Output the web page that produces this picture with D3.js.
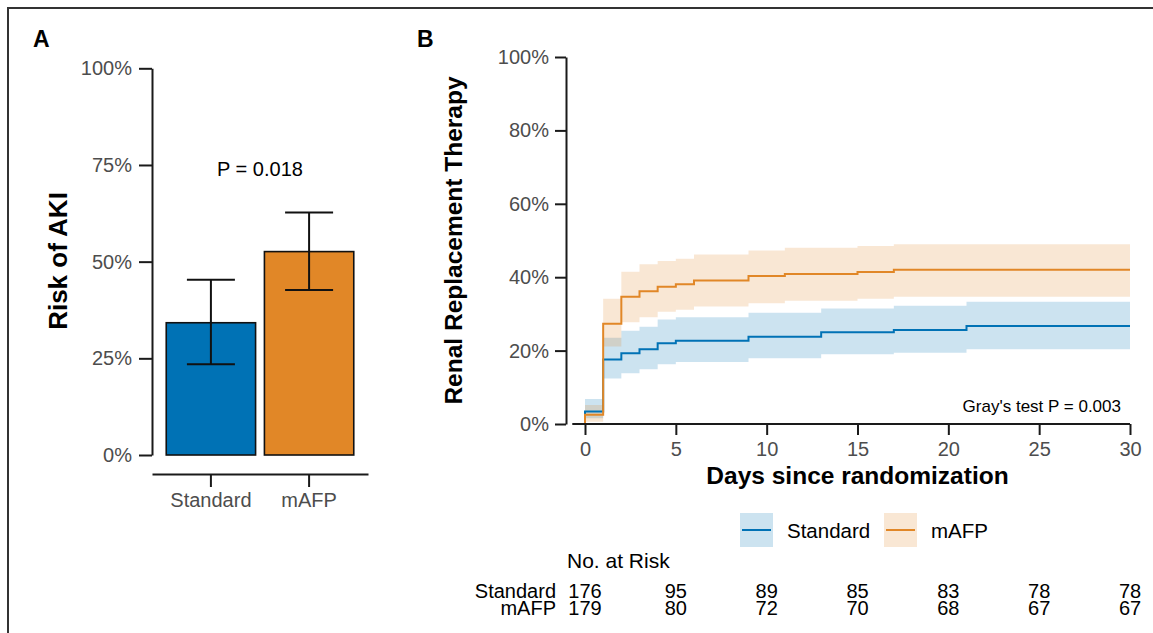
<!DOCTYPE html>
<html>
<head>
<meta charset="utf-8">
<script src="https://cdn.jsdelivr.net/npm/d3@7"></script>
<style>
  body { margin: 0; background: #fff; }
  svg { display: block; font-family: "Liberation Sans", Arial, sans-serif; }
  .axis path, .axis line { stroke: #1a1a1a; stroke-width: 2; }
  .axis text { fill: #4d4d4d; font-size: 20px; }
</style>
</head>
<body>
<div id="chart"></div>
<script>
// panel A: risk of AKI
const bar_groups = ["Standard", "mAFP"];
const bar_risk = [0.342, 0.526];
const bar_lower = [0.235, 0.427];
const bar_upper = [0.453, 0.627];
const bar_ticks = [0, 0.25, 0.5, 0.75, 1];

// panel B: cumulative incidence of RRT (step curves + CI)
const std_days = [0, 1, 2, 3, 4, 5, 9, 13, 17, 21, 30];
const std_est = [0.034, 0.176, 0.193, 0.204, 0.220, 0.227, 0.238, 0.250, 0.256, 0.267, 0.267];
const std_low = [0.016, 0.124, 0.138, 0.149, 0.163, 0.169, 0.179, 0.190, 0.194, 0.204, 0.204];
const std_up = [0.068, 0.235, 0.254, 0.265, 0.285, 0.291, 0.303, 0.315, 0.322, 0.333, 0.333];

const afp_days = [0, 1, 2, 3, 4, 5, 6, 9, 11, 15, 17, 30];
const afp_est = [0.025, 0.273, 0.347, 0.362, 0.374, 0.381, 0.391, 0.403, 0.409, 0.414, 0.420, 0.420];
const afp_low = [0.006, 0.211, 0.277, 0.291, 0.306, 0.311, 0.320, 0.329, 0.336, 0.341, 0.347, 0.347];
const afp_up = [0.052, 0.341, 0.415, 0.435, 0.444, 0.450, 0.462, 0.473, 0.480, 0.485, 0.490, 0.490];

const curve_ticks = [0, 0.2, 0.4, 0.6, 0.8, 1];
const day_ticks = [0, 5, 10, 15, 20, 25, 30];

// number at risk table
const risk_days = [0, 5, 10, 15, 20, 25, 30];
const risk_standard = [176, 95, 89, 85, 83, 78, 78];
const risk_mafp = [179, 80, 72, 70, 68, 67, 67];

const __CONFIG__ = {
  width: 1153,
  height: 633,
  blue: "#0072B5",
  orange: "#E18727",
  ribbon_alpha: 0.2
}

const svg = d3.select("#chart").append("svg")
  .attr("width", __CONFIG__.width)
  .attr("height", __CONFIG__.height);

// outer frame (only top and left edges are visible)
svg.append("path")
  .attr("d", "M8,633V8H1153")
  .attr("fill", "none")
  .attr("stroke", "#333")
  .attr("stroke-width", 2);

function panel_label(txt, x) {
  svg.append("text")
    .attr("x", x).attr("y", 47)
    .attr("font-size", 23).attr("font-weight", "bold")
    .text(txt);
}
panel_label("A", 33);
panel_label("B", 417);

// ---------------- panel A ----------------
function draw_bars() {
  const y = d3.scaleLinear().domain([0, 1]).range([455, 68.3]);
  const x = d3.scaleBand().domain(bar_groups).range([152, 368])
              .paddingInner(0.09).paddingOuter(0.145);
  const colors = [__CONFIG__.blue, __CONFIG__.orange];

  svg.append("g")
    .classed("axis", true)
    .attr("transform", "translate(152,0)")
    .call(d3.axisLeft(y).tickValues(bar_ticks).tickFormat(d3.format(".0%"))
            .tickSize(13).tickSizeOuter(0).tickPadding(7));

  svg.append("g")
    .classed("axis", true)
    .attr("transform", "translate(0,474)")
    .call(d3.axisBottom(x).tickSize(13).tickSizeOuter(0).tickPadding(6));

  const rows = bar_groups.map((g, i) => ({g, v: bar_risk[i], lo: bar_lower[i], hi: bar_upper[i], c: colors[i]}));

  svg.append("g").selectAll("rect")
    .data(rows)
    .join("rect")
    .attr("x", d => x(d.g))
    .attr("width", x.bandwidth())
    .attr("y", d => y(d.v))
    .attr("height", d => y(0) - y(d.v))
    .attr("fill", d => d.c)
    .attr("stroke", "#111")
    .attr("stroke-width", 1.6);

  const eb = svg.append("g").attr("stroke", "#111").attr("stroke-width", 2);
  const cap = 24;
  rows.forEach(d => {
    const cx = x(d.g) + x.bandwidth() / 2;
    eb.append("line").attr("x1", cx).attr("x2", cx).attr("y1", y(d.lo)).attr("y2", y(d.hi));
    eb.append("line").attr("x1", cx - cap).attr("x2", cx + cap).attr("y1", y(d.lo)).attr("y2", y(d.lo));
    eb.append("line").attr("x1", cx - cap).attr("x2", cx + cap).attr("y1", y(d.hi)).attr("y2", y(d.hi));
  });

  svg.append("text")
    .attr("x", 260).attr("y", 176)
    .attr("text-anchor", "middle")
    .attr("font-size", 20)
    .text("P = 0.018");

  svg.append("text")
    .attr("transform", "translate(66.5,261) rotate(-90)")
    .attr("text-anchor", "middle")
    .attr("font-size", 26).attr("font-weight", "bold")
    .text("Risk of AKI");
}

// ---------------- panel B ----------------
function draw_curves() {
  const x = d3.scaleLinear().domain([0, 30]).range([585, 1130]);
  const y = d3.scaleLinear().domain([0, 1]).range([424, 57]);

  const series = [
    {name: "Standard", days: std_days, est: std_est, low: std_low, up: std_up, c: __CONFIG__.blue},
    {name: "mAFP", days: afp_days, est: afp_est, low: afp_low, up: afp_up, c: __CONFIG__.orange}
  ];

  const area = d3.area()
    .curve(d3.curveStepAfter)
    .x(d => x(d.t)).y0(d => y(d.lo)).y1(d => y(d.hi));
  const line = d3.line()
    .curve(d3.curveStepAfter)
    .x(d => x(d.t)).y(d => y(d.v));

  series.forEach(s => {
    const pts = s.days.map((t, i) => ({t, v: s.est[i], lo: s.low[i], hi: s.up[i]}));
    svg.append("path")
      .datum(pts)
      .attr("d", area)
      .attr("fill", s.c)
      .attr("fill-opacity", __CONFIG__.ribbon_alpha);
    s.pts = [{t: 0, v: 0}].concat(pts);
  });
  series.forEach(s => {
    svg.append("path")
      .datum(s.pts)
      .attr("d", line)
      .attr("fill", "none")
      .attr("stroke", s.c)
      .attr("stroke-width", 2);
  });

  svg.append("g")
    .classed("axis", true)
    .attr("transform", "translate(566,0)")
    .call(d3.axisLeft(y).tickValues(curve_ticks).tickFormat(d3.format(".0%"))
            .tickSize(11).tickSizeOuter(0).tickPadding(6));

  const xa = svg.append("g")
    .classed("axis", true)
    .attr("transform", "translate(0,424)")
    .call(d3.axisBottom(x).tickValues(day_ticks).tickSize(11).tickSizeOuter(0).tickPadding(7));
  xa.select(".domain").attr("d", `M${x(-0.7)},0H${x(30)}`);

  svg.append("text")
    .attr("x", 1121).attr("y", 412)
    .attr("text-anchor", "end")
    .attr("font-size", 17)
    .text("Gray's test P = 0.003");

  svg.append("text")
    .attr("x", (x(0) + x(30)) / 2).attr("y", 484)
    .attr("text-anchor", "middle")
    .attr("font-size", 24.5).attr("font-weight", "bold")
    .text("Days since randomization");

  svg.append("text")
    .attr("transform", `translate(462,${(y(0) + y(1)) / 2}) rotate(-90)`)
    .attr("text-anchor", "middle")
    .attr("font-size", 24.5).attr("font-weight", "bold")
    .text("Renal Replacement Therapy");

  // legend
  const lg = svg.append("g").attr("transform", "translate(740,513)");
  const keys = [{name: "Standard", c: __CONFIG__.blue, dx: 0}, {name: "mAFP", c: __CONFIG__.orange, dx: 144}];
  keys.forEach(k => {
    const g = lg.append("g").attr("transform", `translate(${k.dx},0)`);
    g.append("rect").attr("width", 33).attr("height", 34)
      .attr("fill", k.c).attr("fill-opacity", __CONFIG__.ribbon_alpha);
    g.append("line").attr("x1", 2).attr("x2", 31).attr("y1", 17).attr("y2", 17)
      .attr("stroke", k.c).attr("stroke-width", 2);
    g.append("text").attr("x", 47).attr("y", 24.5)
      .attr("font-size", 20.5).text(k.name);
  });

  // number at risk
  svg.append("text")
    .attr("x", 567).attr("y", 568)
    .attr("font-size", 21)
    .text("No. at Risk");

  const table = [{name: "Standard", n: risk_standard, yy: 598}, {name: "mAFP", n: risk_mafp, yy: 615}];
  table.forEach(r => {
    svg.append("text")
      .attr("x", 556).attr("y", r.yy)
      .attr("text-anchor", "end")
      .attr("font-size", 20)
      .text(r.name);
    svg.append("g").selectAll("text")
      .data(risk_days.map((d, i) => ({d, n: r.n[i]})))
      .join("text")
      .attr("x", d => x(d.d)).attr("y", r.yy)
      .attr("text-anchor", "middle")
      .attr("font-size", 20)
      .text(d => d.n);
  });
}

draw_bars();
draw_curves();
</script>
</body>
</html>
